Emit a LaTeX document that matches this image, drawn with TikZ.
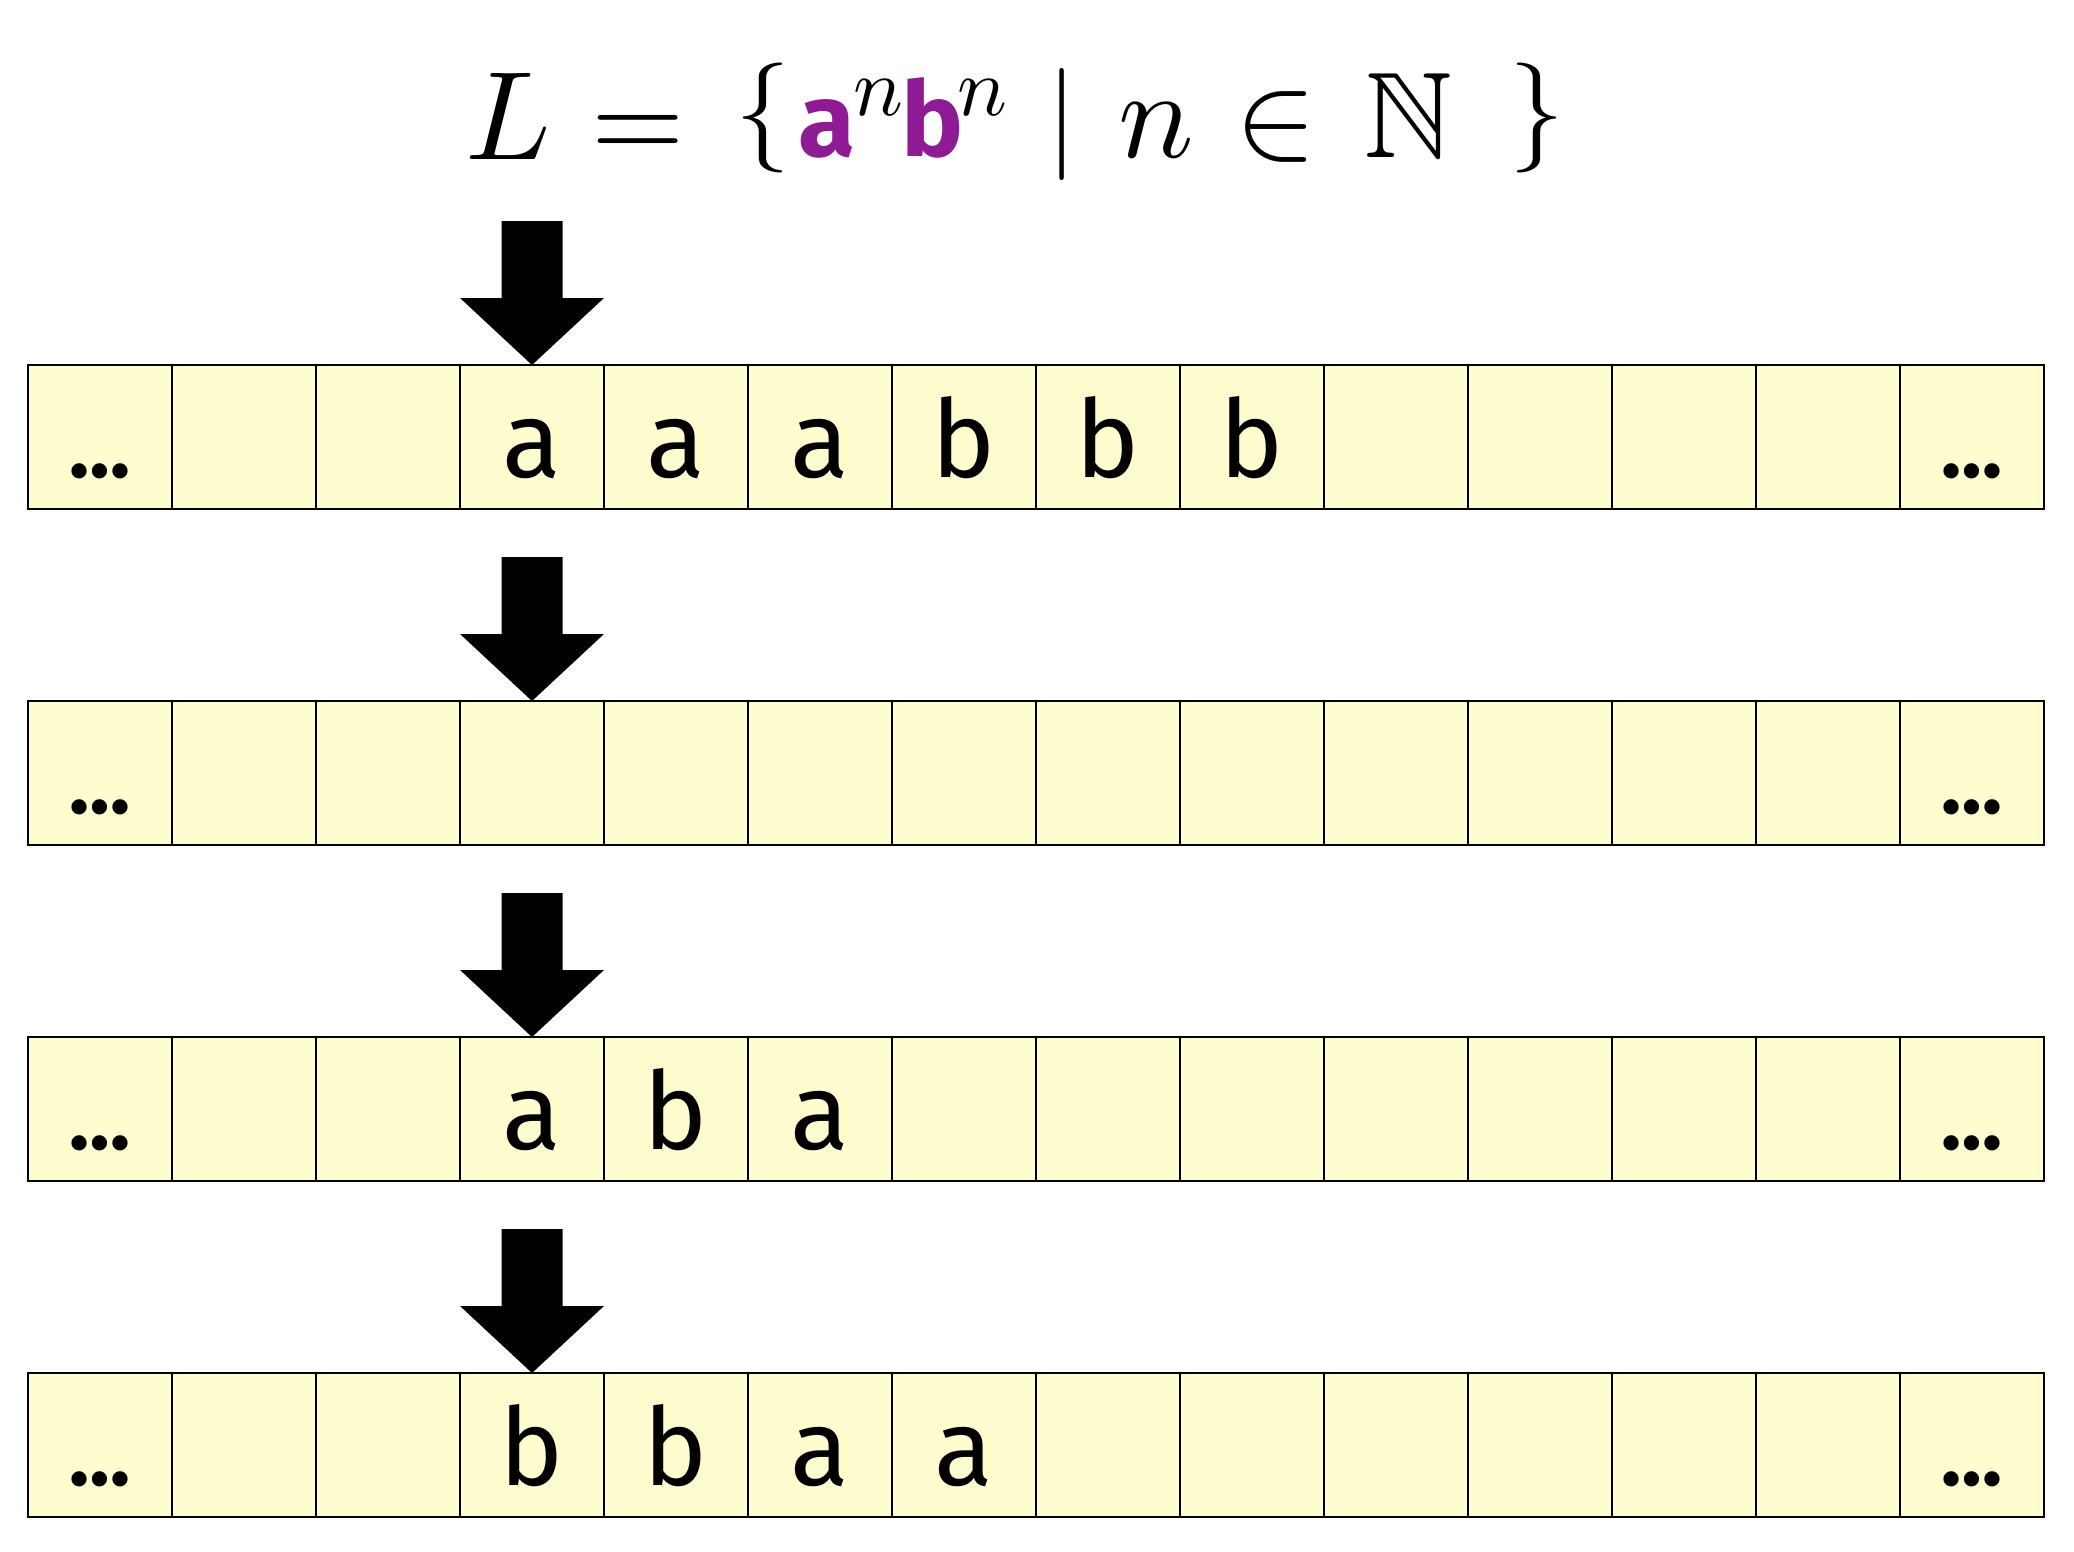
\documentclass[tikz,border=0pt]{standalone}
\usepackage{amssymb}
\usepackage{fontspec}
\newfontfamily\tapefont{Fira Sans}
\definecolor{tapefill}{HTML}{FFFDD0}
\definecolor{abpurple}{HTML}{8E1B94}
\tikzset{
  cell/.style={draw=black, line width=1.2pt, fill=tapefill, minimum width=144pt,
    minimum height=144pt, inner sep=0pt, outer sep=0pt, anchor=north west},
  sym/.style={font=\tapefont\fontsize{108}{110}\selectfont, inner sep=0pt, outer sep=0pt, anchor=base},
  dotsym/.style={font=\tapefont\bfseries\fontsize{84}{86}\selectfont, inner sep=0pt, outer sep=0pt, anchor=base},
  absym/.style={font=\tapefont\bfseries\fontsize{104}{106}\selectfont, text=abpurple,
    inner sep=0pt, outer sep=0pt, anchor=base},
  mtok/.style={inner sep=0pt, outer sep=0pt, anchor=base, font=\fontsize{10}{12}\selectfont},
  mdelim/.style={inner sep=0pt, outer sep=0pt, anchor=center, font=\fontsize{10}{12}\selectfont},
  headarrow/.style={fill=black, draw=none},
}
\begin{document}
\begin{tikzpicture}[x=1pt,y=-1pt]
\useasboundingbox (0,0) rectangle (2074,1552);
% formula
\node[mtok, scale=12.6] (fL) at (508,159) {$L$};
\node[mtok, scale=12.0] (feq) at (638,159) {$=$};
\node[mdelim, scale=11.0] (flb) at (763,118) {$\{$};
\node[absym] (fa) at (827,157) {a};
\node[mtok, scale=8.3] (fn1) at (878,116) {$n$};
\node[absym] (fb) at (933,157) {b};
\node[mtok, scale=8.3] (fn2) at (982,116) {$n$};
\node[mdelim, scale=11.2] (fbar) at (1062,125) {$|$};
\node[mtok, scale=12.6] (fn) at (1156,157) {$n$};
\node[mtok, scale=12.2] (fin) at (1276,157) {$\in$};
\node[mtok, scale=12.2] (fN) at (1409,157) {$\mathbb{N}$};
\node[mdelim, scale=11.0] (frb) at (1537,118) {$\}$};
% tapes
\foreach \r in {0,1,2,3} {
  \foreach \i in {0,...,13} {
    \node[cell] (c\r-\i) at ({28+144*\i},{365+336*\r}) {};
  }
  \fill[headarrow] (c\r-3.north) -- ++(-72,-67) -- ++(41.5,0) -- ++(0,-77)
    -- ++(61,0) -- ++(0,77) -- ++(41.5,0) -- cycle;
  \node[dotsym] (e\r-0) at ({100},{477+336*\r}) {…};
  \node[dotsym] (e\r-13) at ({100+144*13},{477+336*\r}) {…};
}
\foreach \r/\i/\t in {0/3/a,0/4/a,0/5/a,0/6/b,0/7/b,0/8/b,
                      2/3/a,2/4/b,2/5/a,
                      3/3/b,3/4/b,3/5/a,3/6/a} {
  \node[sym] (t\r-\i) at ({100+144*\i},{477+336*\r}) {\t};
}
\end{tikzpicture}
\end{document}
